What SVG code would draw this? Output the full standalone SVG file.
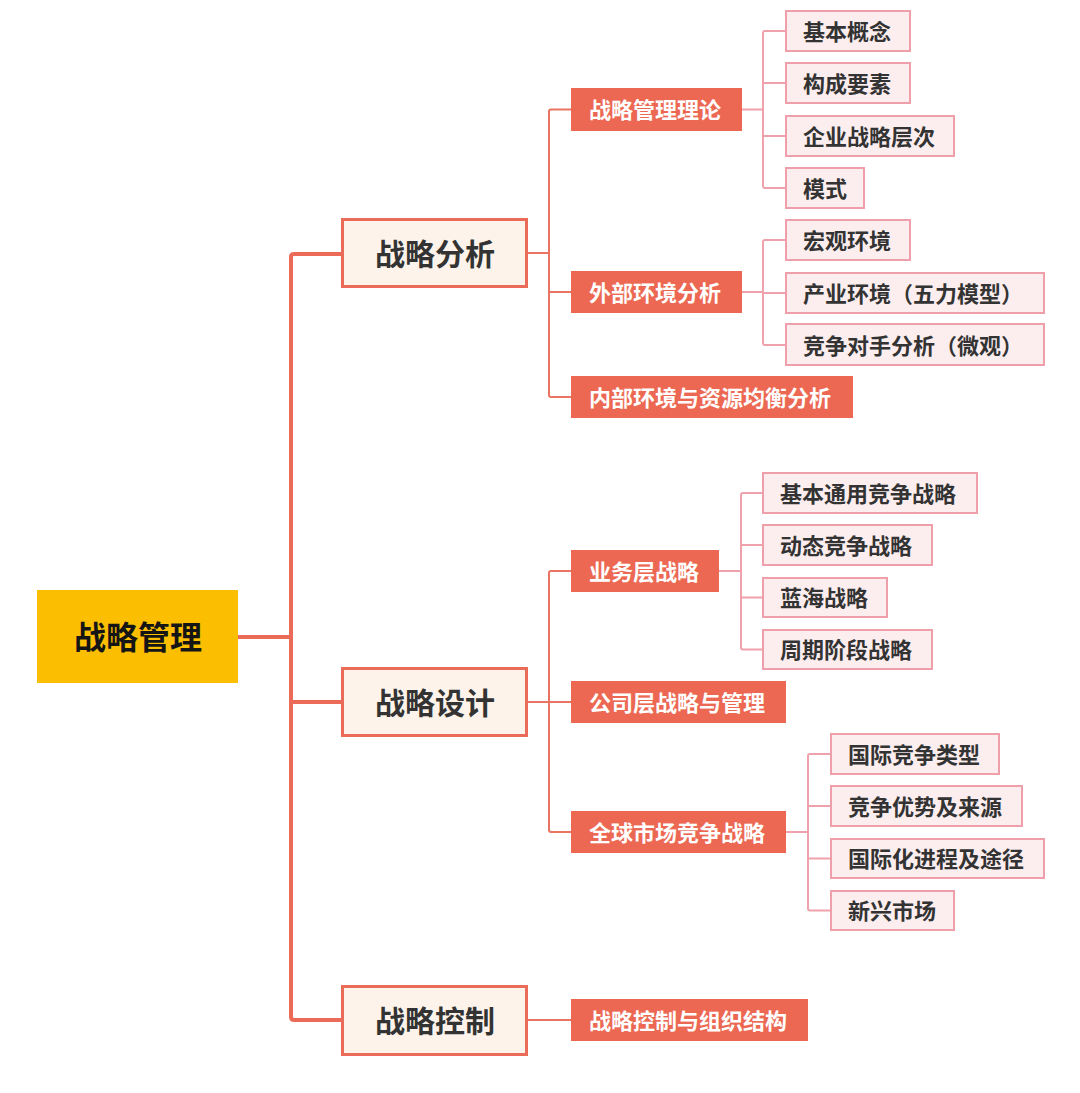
<svg xmlns="http://www.w3.org/2000/svg" width="1080" height="1093" viewBox="0 0 1080 1093">
<style>
text{font-family:"Noto Sans CJK SC","Noto Sans",sans-serif;font-weight:bold;dominant-baseline:central}
.root rect{fill:#FCBE00}
.root text{font-size:32px;fill:#151515;text-anchor:middle}
.l1 rect{fill:#FDF3EA;stroke:#EA6B58;stroke-width:3}
.l1 text{font-size:30px;fill:#333;text-anchor:middle}
.l2 rect{fill:#EC6853}
.l2 text{font-size:22px;fill:#fff}
.leaf rect{fill:#FCEEEF;stroke:#EE9FAA;stroke-width:2}
.leaf text{font-size:22px;fill:#333}
.trunk{fill:none;stroke:#EC6A58;stroke-width:4;stroke-linejoin:round}
.c1{fill:none;stroke:#EA7462;stroke-width:2}
.c2{fill:none;stroke:#F0A2AC;stroke-width:2}
</style>
<rect width="1080" height="1093" fill="#fff"/>
<g id="connectors">
<path class="trunk" d="M238,637 H291 M341,254 H294 Q291,254 291,257 V1017 Q291,1020 294,1020 H341 M291,702 H341"/>
<path class="c1" d="M528,253 H549 M571,109.5 H551 Q549,109.5 549,111.5 V395 Q549,397 551,397 H571 M549,292 H571"/>
<path class="c1" d="M528,702 H549 M571,571 H551 Q549,571 549,573 V830 Q549,832 551,832 H571 M549,702 H571"/>
<path class="c1" d="M528,1020 H571"/>
<path class="c2" d="M742,109.5 H763 M785,31 H765 Q763,31 763,33 V186 Q763,188 765,188 H785 M763,83 H785 M763,136 H785"/>
<path class="c2" d="M742,292 H763 M785,240 H765 Q763,240 763,242 V343 Q763,345 765,345 H785 M763,293 H785"/>
<path class="c2" d="M719,571 H741 M762,493 H743 Q741,493 741,495 V647.5 Q741,649.5 743,649.5 H762 M741,545 H762 M741,597.5 H762"/>
<path class="c2" d="M786,832 H808 M830,754 H810 Q808,754 808,756 V908.5 Q808,910.5 810,910.5 H830 M808,806 H830 M808,858.5 H830"/>
</g>
<g id="root" class="root"><rect x="37" y="590" width="201" height="93"/><text x="138" y="635">战略管理</text></g>
<g id="n-analysis" class="l1"><rect x="342.5" y="219.5" width="184" height="67"/><text x="435" y="251.5">战略分析</text></g>
<g id="n-design" class="l1"><rect x="342.5" y="668.5" width="184" height="67"/><text x="435" y="700.5">战略设计</text></g>
<g id="n-control" class="l1"><rect x="342.5" y="986.5" width="184" height="68"/><text x="435" y="1018.5">战略控制</text></g>
<g id="n-theory" class="l2"><rect x="571" y="88" width="171" height="43"/><text x="589" y="108">战略管理理论</text></g>
<g id="n-external" class="l2"><rect x="571" y="271" width="171" height="42"/><text x="589" y="290.5">外部环境分析</text></g>
<g id="n-internal" class="l2"><rect x="571" y="376" width="282" height="42"/><text x="589" y="395.5">内部环境与资源均衡分析</text></g>
<g id="n-business" class="l2"><rect x="571" y="550" width="148" height="42"/><text x="589" y="569.5">业务层战略</text></g>
<g id="n-corporate" class="l2"><rect x="571" y="681" width="215" height="42"/><text x="589" y="700.5">公司层战略与管理</text></g>
<g id="n-global" class="l2"><rect x="571" y="811" width="215" height="42"/><text x="589" y="830.5">全球市场竞争战略</text></g>
<g id="n-org" class="l2"><rect x="571" y="999" width="237" height="42"/><text x="589" y="1018.5">战略控制与组织结构</text></g>
<g id="l-concept" class="leaf"><rect x="786" y="11" width="124" height="40"/><text x="803" y="29.5">基本概念</text></g>
<g id="l-elements" class="leaf"><rect x="786" y="63" width="124" height="40"/><text x="803" y="81.5">构成要素</text></g>
<g id="l-levels" class="leaf"><rect x="786" y="116" width="168" height="40"/><text x="803" y="134.5">企业战略层次</text></g>
<g id="l-mode" class="leaf"><rect x="786" y="168" width="78" height="40"/><text x="803" y="186.5">模式</text></g>
<g id="l-macro" class="leaf"><rect x="786" y="220" width="124" height="40"/><text x="803" y="238.5">宏观环境</text></g>
<g id="l-industry" class="leaf"><rect x="786" y="273" width="258" height="40"/><text x="803" y="291.5">产业环境（五力模型）</text></g>
<g id="l-rival" class="leaf"><rect x="786" y="324" width="258" height="41"/><text x="803" y="343.5">竞争对手分析（微观）</text></g>
<g id="l-generic" class="leaf"><rect x="763" y="473" width="214" height="40"/><text x="780" y="491.5">基本通用竞争战略</text></g>
<g id="l-dynamic" class="leaf"><rect x="763" y="525" width="169" height="40"/><text x="780" y="543.5">动态竞争战略</text></g>
<g id="l-blue" class="leaf"><rect x="763" y="578" width="124" height="39"/><text x="780" y="596">蓝海战略</text></g>
<g id="l-cycle" class="leaf"><rect x="763" y="630" width="169" height="39"/><text x="780" y="648">周期阶段战略</text></g>
<g id="l-intl-type" class="leaf"><rect x="831" y="734" width="168" height="40"/><text x="848" y="752.5">国际竞争类型</text></g>
<g id="l-advantage" class="leaf"><rect x="831" y="786" width="191" height="40"/><text x="848" y="804.5">竞争优势及来源</text></g>
<g id="l-process" class="leaf"><rect x="831" y="839" width="213" height="39"/><text x="848" y="857">国际化进程及途径</text></g>
<g id="l-emerging" class="leaf"><rect x="831" y="891" width="123" height="39"/><text x="848" y="909">新兴市场</text></g>
</svg>
